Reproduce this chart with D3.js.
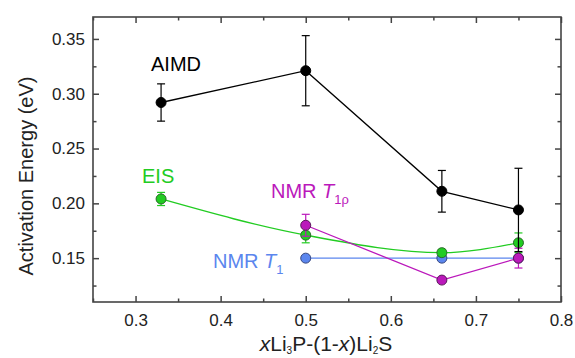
<!DOCTYPE html>
<html><head><meta charset="utf-8">
<script src="https://cdn.jsdelivr.net/npm/d3@7"></script>
<style>body{margin:0;background:#fff;} svg{display:block;font-family:"Liberation Sans",Arial,sans-serif;}</style>
</head><body>
<script>
const xs = [0.33, 0.5, 0.66, 0.75];
const aimd = [0.292, 0.321, 0.211, 0.194];
const aimdErr = [0.017, 0.032, 0.019, 0.038];
const eisX = [0.33, 0.5, 0.66, 0.75];
const eis = [0.204, 0.171, 0.155, 0.164];
const eisErr = [0.006, 0.007, 0.003, 0.009];
const t1X = [0.5, 0.66, 0.75];
const t1 = [0.150, 0.150, 0.150];
const t1rhoX = [0.5, 0.66, 0.75];
const t1rho = [0.180, 0.130, 0.150];
const t1rhoErr = [0.010, 0.0, 0.009];
const xTicks = [0.3, 0.4, 0.5, 0.6, 0.7, 0.8];
const yTicks = [0.15, 0.20, 0.25, 0.30, 0.35];

const W = 575, H = 358;
const m = {l: 93, r: 14, t: 17, b: 56};
const svg = d3.select("body").append("svg").attr("width", W).attr("height", H);
const x = d3.scaleLinear().domain([0.25, 0.8]).range([m.l, W - m.r]);
const y = d3.scaleLinear().domain([0.11, 0.37]).range([H - m.b, m.t]);
const frame = "#444";

const xMinor = d3.range(0.25, 0.8001, 0.05).map(v => +v.toFixed(3)).filter(v => !xTicks.some(t => Math.abs(t - v) < 1e-6));
const yMinor = d3.range(0.125, 0.37, 0.05).map(v => +v.toFixed(3));

function axisGroup(axis, tx, ty) {
  const g = svg.append("g").attr("transform", `translate(${tx},${ty})`).call(axis);
  g.select(".domain").remove();
  g.selectAll("line").attr("stroke", frame).attr("stroke-width", 1.5);
  g.selectAll("text").attr("fill", "#222").style("font-size", "17px").style("font-family", '"Liberation Sans",Arial,sans-serif');
  return g;
}
const fmt = d3.format(".1f"), fmtY = d3.format(".2f");
axisGroup(d3.axisBottom(x).tickValues(xTicks).tickFormat(fmt).tickSize(-6).tickPadding(12), 0, H - m.b);
axisGroup(d3.axisBottom(x).tickValues(xMinor).tickFormat("").tickSize(-3.5), 0, H - m.b);
axisGroup(d3.axisTop(x).tickValues(xTicks).tickFormat("").tickSize(-6), 0, m.t);
axisGroup(d3.axisTop(x).tickValues(xMinor).tickFormat("").tickSize(-3.5), 0, m.t);
axisGroup(d3.axisLeft(y).tickValues(yTicks).tickFormat(fmtY).tickSize(-6).tickPadding(8), m.l, 0);
axisGroup(d3.axisLeft(y).tickValues(yMinor).tickFormat("").tickSize(-3.5), m.l, 0);
axisGroup(d3.axisRight(y).tickValues(yTicks).tickFormat("").tickSize(-6), W - m.r, 0);
axisGroup(d3.axisRight(y).tickValues(yMinor).tickFormat("").tickSize(-3.5), W - m.r, 0);

svg.append("rect").attr("x", m.l).attr("y", m.t).attr("width", W - m.r - m.l).attr("height", H - m.b - m.t)
  .attr("fill", "none").attr("stroke", frame).attr("stroke-width", 1.6);

function series(X, Y, E, color, stroke, curve) {
  const g = svg.append("g");
  const pts = X.map((v, i) => [v, Y[i]]);
  g.append("path").datum(pts).attr("fill", "none").attr("stroke", color).attr("stroke-width", 1.3)
    .attr("d", d3.line().x(d => x(d[0])).y(d => y(d[1])).curve(curve || d3.curveLinear));
  if (E) {
    X.forEach((v, i) => {
      if (!E[i]) return;
      const cx = x(v), y1 = y(Y[i] + E[i]), y2 = y(Y[i] - E[i]);
      g.append("line").attr("x1", cx).attr("x2", cx).attr("y1", y1).attr("y2", y2).attr("stroke", color).attr("stroke-width", 1.2);
      [y1, y2].forEach(yy => g.append("line").attr("x1", cx - 4).attr("x2", cx + 4).attr("y1", yy).attr("y2", yy).attr("stroke", color).attr("stroke-width", 1.2));
    });
  }
  g.selectAll("circle").data(pts).enter().append("circle")
    .attr("cx", d => x(d[0])).attr("cy", d => y(d[1])).attr("r", 5)
    .attr("fill", color).attr("stroke", stroke).attr("stroke-width", 1);
}
const cGreen = "#22cc22", cMag = "#bb18bb", cBlue = "#5b86ee";
series(t1X, t1, null, cBlue, "#3a4a80");
series(eisX, eis, eisErr, cGreen, "#2a6a2a", d3.curveMonotoneX);
series(t1rhoX, t1rho, t1rhoErr, cMag, "#5a1a5a");
series(xs, aimd, aimdErr, "#000", "#000");

const lab = (t, px, py, col) => svg.append("text").attr("x", px).attr("y", py).attr("fill", col).style("font-size", "20px").text(t);
lab("AIMD", 151, 71, "#000");
lab("EIS", 142, 183, cGreen);
const t1r = svg.append("text").attr("x", 271).attr("y", 198).attr("fill", cMag).style("font-size", "20px");
t1r.append("tspan").text("NMR ");
t1r.append("tspan").style("font-style", "italic").text("T");
t1r.append("tspan").attr("dy", 6).style("font-size", "13px").text("1ρ");
const t1l = svg.append("text").attr("x", 213).attr("y", 268).attr("fill", cBlue).style("font-size", "20px");
t1l.append("tspan").text("NMR ");
t1l.append("tspan").style("font-style", "italic").text("T");
t1l.append("tspan").attr("dy", 6).style("font-size", "13px").text("1");

const xt = svg.append("text").attr("x", 326).attr("y", 351).attr("text-anchor", "middle").attr("fill", "#222").style("font-size", "21px");
xt.append("tspan").style("font-style", "italic").text("x");
xt.append("tspan").text("Li");
xt.append("tspan").attr("dy", 3).style("font-size", "10px").text("3");
xt.append("tspan").attr("dy", -3).text("P-(1-");
xt.append("tspan").style("font-style", "italic").text("x");
xt.append("tspan").text(")Li");
xt.append("tspan").attr("dy", 3).style("font-size", "10px").text("2");
xt.append("tspan").attr("dy", -3).text("S");

svg.append("text").attr("transform", `translate(33,176) rotate(-90)`).attr("text-anchor", "middle")
  .attr("fill", "#222").style("font-size", "20px").text("Activation Energy (eV)");
</script>
</body></html>
